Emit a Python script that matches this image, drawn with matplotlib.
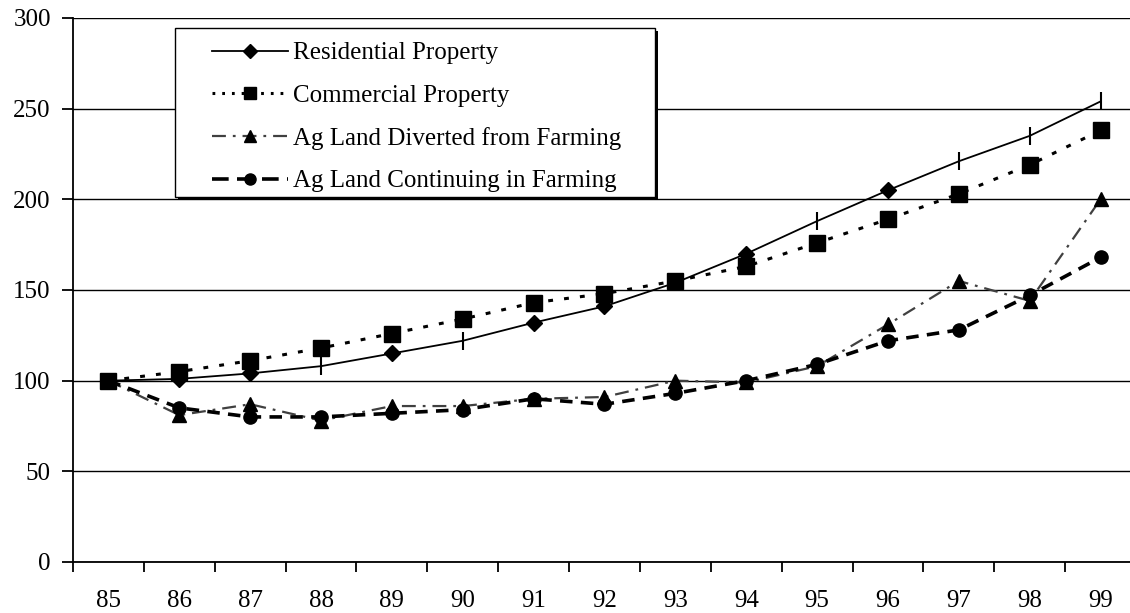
import matplotlib
matplotlib.use('Agg')
import matplotlib.pyplot as plt
from matplotlib.lines import Line2D
from matplotlib.patches import Rectangle
from matplotlib.ticker import FixedLocator

plt.rcParams['font.family'] = ['Liberation Serif', 'DejaVu Serif']
plt.rcParams['lines.scale_dashes'] = False

years = ['85', '86', '87', '88', '89', '90', '91', '92', '93', '94', '95', '96', '97', '98', '99']
residential = [100, 101, 104, 108, 115, 122, 132, 141, 154, 170, 188, 205, 221, 235, 254]
commercial = [100, 105, 111, 118, 126, 134, 143, 148, 155, 163, 176, 189, 203, 219, 238]
diverted = [100, 81, 87, 78, 86, 86, 90, 91, 100, 99, 108, 131, 155, 144, 200]
continuing = [100, 85, 80, 80, 82, 84, 90, 87, 93, 100, 109, 122, 128, 147, 168]
yticks = [0, 50, 100, 150, 200, 250, 300]

W, H = 1130, 613
FS = 18
fig = plt.figure(figsize=(W / 100, H / 100), dpi=100)
# plot area runs a little past the right edge, like the original export
ax = fig.add_axes([73 / W, (H - 562) / H, (1136 - 73) / W, (562 - 18) / H])

x = list(range(len(years)))

# Residential: solid with diamonds, some points drawn as plain ticks
ax.plot(x, residential, color='black', lw=1.3, zorder=4)
dia_idx = [1, 2, 4, 6, 7, 9, 11]
bar_idx = [3, 5, 10, 12, 13, 14]
ax.plot([x[i] for i in dia_idx], [residential[i] for i in dia_idx], ls='none',
        marker='D', ms=8.5, color='black', zorder=5)
ax.plot([x[i] for i in bar_idx], [residential[i] for i in bar_idx], ls='none',
        marker='|', ms=13, mew=1.5, color='black', zorder=5)

ax.plot(x, commercial, color='black', lw=2.2, dashes=(3.5, 8), dash_capstyle='butt',
        marker='s', ms=11, zorder=4)
ax.plot(x, diverted, color='#404040', lw=1.6, dashes=(10, 5, 2, 5),
        marker='^', ms=10.5, mfc='black', mec='black', zorder=3)
ax.plot(x, continuing, color='black', lw=2.6, dashes=(9, 6),
        marker='o', ms=9.5, zorder=3)

ax.set_xlim(-0.5, len(years) - 0.5)
ax.set_ylim(0, 300)
ax.set_yticks(yticks)
ax.set_yticklabels([str(v) for v in yticks])
ax.xaxis.set_major_locator(FixedLocator(x))
ax.set_xticklabels(years)
ax.xaxis.set_minor_locator(FixedLocator([i - 0.5 for i in range(len(years) + 1)]))

ax.tick_params(axis='x', which='major', length=0, pad=20, labelsize=FS)
ax.tick_params(axis='x', which='minor', length=7, width=1.3, direction='out')
ax.tick_params(axis='y', which='major', length=8, width=1.3, direction='out',
               pad=8, labelsize=FS)

ax.grid(axis='y', color='black', lw=1.0)
ax.set_axisbelow(True)
for side in ['top', 'right']:
    ax.spines[side].set_visible(False)
for side in ['left', 'bottom']:
    ax.spines[side].set_linewidth(1.3)

# legend box with a dark drop shadow
bx0, by0, bx1, by1 = 175, 28, 655, 197
fig.patches.append(Rectangle((bx0 / W + 3 / W, 1 - by1 / H - 3 / H), (bx1 - bx0) / W, (by1 - by0) / H,
                             transform=fig.transFigure, facecolor='black', edgecolor='none', zorder=10))
fig.patches.append(Rectangle((bx0 / W, 1 - by1 / H), (bx1 - bx0) / W, (by1 - by0) / H,
                             transform=fig.transFigure, facecolor='white', edgecolor='black',
                             lw=1.0, zorder=11))

handles = [
    Line2D([], [], color='black', lw=1.3, marker='D', ms=7),
    Line2D([], [], color='black', lw=2.2, dashes=(2, 5), dash_capstyle='butt', marker='s', ms=9),
    Line2D([], [], color='#404040', lw=1.6, dashes=(10, 5, 2, 5), marker='^', ms=9,
           mfc='black', mec='black'),
    Line2D([], [], color='black', lw=2.6, dashes=(12, 6), marker='o', ms=8),
]
labels = ['Residential Property', 'Commercial Property',
          'Ag Land Diverted from Farming', 'Ag Land Continuing in Farming']
leg = fig.legend(handles, labels, loc='upper left', bbox_to_anchor=(212 / W, 1 - 42 / H),
                 bbox_transform=fig.transFigure, frameon=False, fontsize=FS,
                 borderpad=0, borderaxespad=0, handlelength=3.05, handletextpad=0.2,
                 labelspacing=0.8, numpoints=1)
leg.set_zorder(12)

fig.savefig('out.png', dpi=100)
